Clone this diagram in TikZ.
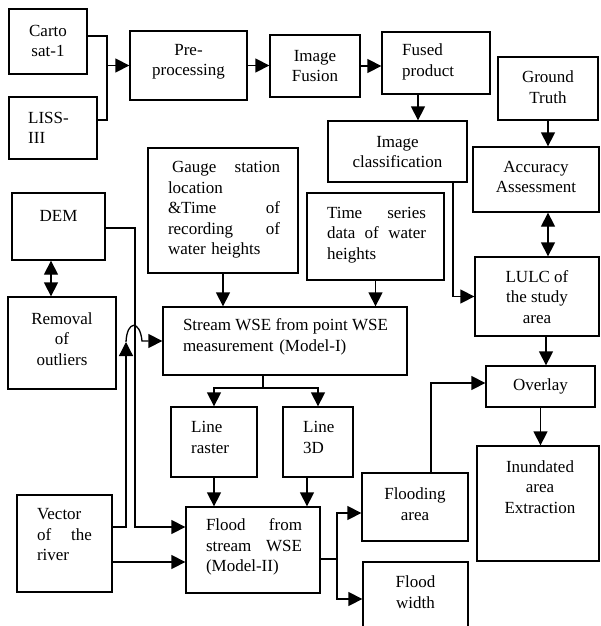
\documentclass[tikz,border=0pt]{standalone}
\usepackage{fontspec}
\setmainfont{Liberation Serif}
\usetikzlibrary{arrows.meta}
\newcommand{\bx}[5]{\node[box, minimum width={(#4-#2)*1pt}, minimum height={(#5-#3)*1pt}] (#1) at ({(#2+#4)/2},{(#3+#5)/2}) {};}
\newcommand{\jl}[2]{\leavevmode\hbox to #1{#2}}
\begin{document}
\begin{tikzpicture}[x=1pt,y=-1pt,
  box/.style={draw, line width=1.3pt, inner sep=0pt, rectangle},
  txt/.style={inner sep=0pt, font=\fontsize{17}{20.5}\selectfont, align=center},
  arr/.style={line width=1.3pt, -{Triangle[length=14pt,width=14pt]}},
  darr/.style={line width=1.3pt, {Triangle[length=14pt,width=14pt]}-{Triangle[length=14pt,width=14pt]}},
  ln/.style={line width=1.3pt}]
\useasboundingbox (0,0) rectangle (600,626);
\clip (0,0) rectangle (600,626);
% boxes
\bx{carto}{9}{9}{87}{74}
\bx{liss}{9}{97}{97}{159}
\bx{pre}{130}{31}{247}{100}
\bx{fusion}{270}{35}{360}{97}
\bx{fused}{382}{32}{490}{94}
\bx{iclass}{328}{121}{467}{182}
\bx{ground}{498}{57}{598}{120}
\bx{acc}{473}{147}{599}{212}
\bx{lulc}{475}{257}{599}{336}
\bx{overlay}{486}{366}{595}{407}
\bx{inund}{477}{446}{599}{561}
\bx{gauge}{148}{148}{298}{273}
\bx{time}{307}{193}{444}{280}
\bx{stream}{163}{307}{407}{375}
\bx{dem}{12}{193}{105}{260}
\bx{removal}{8}{297}{116}{389}
\bx{lraster}{171}{407}{257}{477}
\bx{lthree}{283}{407}{353}{477}
\bx{flood}{186}{507}{320}{593}
\bx{vector}{17}{495}{112}{592}
\bx{flooding}{362}{473}{468}{541}
\bx{fwidth}{363}{562}{468}{640}
% texts
\node[txt] (cartoT) at (48,41) {Carto\\sat-1};
\node[txt, anchor=west, align=left] (lissT) at (28,128) {LISS-\\III};
\node[txt] (preT) at (188.5,62) {Pre-\\processing};
\node[txt] (fusionT) at (315,66) {Image\\Fusion};
\node[txt, anchor=west, align=left] (fusedT) at (402,62) {Fused\\product};
\node[txt] (iclassT) at (397.5,152) {Image\\classification};
\node[txt] (groundT) at (548,87) {Ground\\Truth};
\node[txt] (accT) at (536,177) {Accuracy\\Assessment};
\node[txt] (lulcT) at (537,297) {LULC of\\the study\\area};
\node[txt] (overlayT) at (540.5,386.5) {Overlay};
\node[txt] (inundT) at (540,487) {Inundated\\area\\Extraction};
\node[txt] (demT) at (58.5,216) {DEM};
\node[txt] (removalT) at (62,339) {Removal\\of\\outliers};
\node[txt, text width=112pt, align=left] (gaugeT) at (224,210) {\jl{112pt}{\hspace{4pt}Gauge\hfill station}\\location\\\jl{112pt}{\&Time\hfill of}\\\jl{112pt}{recording\hfill of}\\water heights};
\node[txt, text width=99pt, align=left] (timeT) at (376.5,235) {\jl{99pt}{Time\hfill series}\\\jl{99pt}{data\hfill of\hfill water}\\heights};
\node[txt, text width=205pt, align=left] (streamT) at (285.5,337) {\jl{205pt}{Stream\hfill WSE\hfill from\hfill point\hfill WSE}\\measurement (Model-I)};
\node[txt, anchor=west, align=left] (lrasterT) at (191,437.5) {Line\\raster};
\node[txt, anchor=west, align=left] (lthreeT) at (303,437.5) {Line\\3D};
\node[txt, text width=96pt, align=left] (floodT) at (254,547) {\jl{96pt}{Flood\hfill from}\\\jl{96pt}{stream\hfill WSE}\\(Model-II)};
\node[txt, text width=55pt, align=left] (vectorT) at (64.5,535) {Vector\\\jl{55pt}{of\hfill the}\\river};
\node[txt] (floodingT) at (415,504) {Flooding\\area};
\node[txt] (fwidthT) at (415.5,592) {Flood\\width};
% connectors
\coordinate (m1) at (107,65.5);
\draw[ln] ([yshift=5.5pt]carto.east) -| (m1) |- ([yshift=8pt]liss.east);
\draw[arr] (m1) -- (pre.west);
\draw[arr] (pre.east) -- (pre.east -| fusion.west);
\draw[arr] (fusion.east) -- (fusion.east -| fused.west);
\draw[arr] ([xshift=-18pt]fused.south) -- ([xshift=-18pt]fused.south |- iclass.north);
\draw[arr] (ground.south) -- (ground.south |- acc.north);
\draw[darr] (ground.south |- acc.south) -- (ground.south |- lulc.north);
\draw[arr] ([xshift=55.5pt]iclass.south) |- (lulc.west);
\draw[arr] ([xshift=9pt]lulc.south) -- ([xshift=9pt]lulc.south |- overlay.north);
\draw[arr] (overlay.south) -- (overlay.south |- inund.north);
\draw[arr] (gauge.south) -- (gauge.south |- stream.north);
\draw[arr] (time.south) -- (time.south |- stream.north);
\draw[darr] ([xshift=-7.5pt]dem.south) -- ([xshift=-7.5pt]dem.south |- removal.north);
\coordinate (dx) at (135,400);
\draw[arr] ([yshift=-1.5pt]dem.east) -| (dx) |- ([yshift=23pt]flood.west);
\coordinate (vx) at (126,342);
\draw[arr] ([yshift=16.5pt]vector.east) -| (vx);
\draw[arr] (vx) .. controls (127,320) and (140,320) .. (142,341) -- (stream.west);
\draw[arr] ([yshift=-18.5pt]vector.east) -- ([yshift=-18.5pt]vector.east -| flood.west);
\coordinate (sj) at (263,388);
\draw[ln] (sj |- stream.south) -- (sj);
\draw[arr] (sj) -| (lraster.north);
\draw[arr] (sj) -| (lthree.north);
\draw[arr] (lraster.south) -- (lraster.south |- flood.north);
\draw[arr] ([xshift=-11pt]lthree.south) -- ([xshift=-11pt]lthree.south |- flood.north);
\coordinate (fj) at (337,559);
\draw[ln] (fj -| flood.east) -- (fj);
\draw[arr] (fj) |- ([yshift=-6pt]flooding.west);
\draw[arr] (fj) |- ([yshift=2pt]fwidth.west);
\draw[arr] ([xshift=16pt]flooding.north) |- ([yshift=3.5pt]overlay.west);
\end{tikzpicture}
\end{document}
